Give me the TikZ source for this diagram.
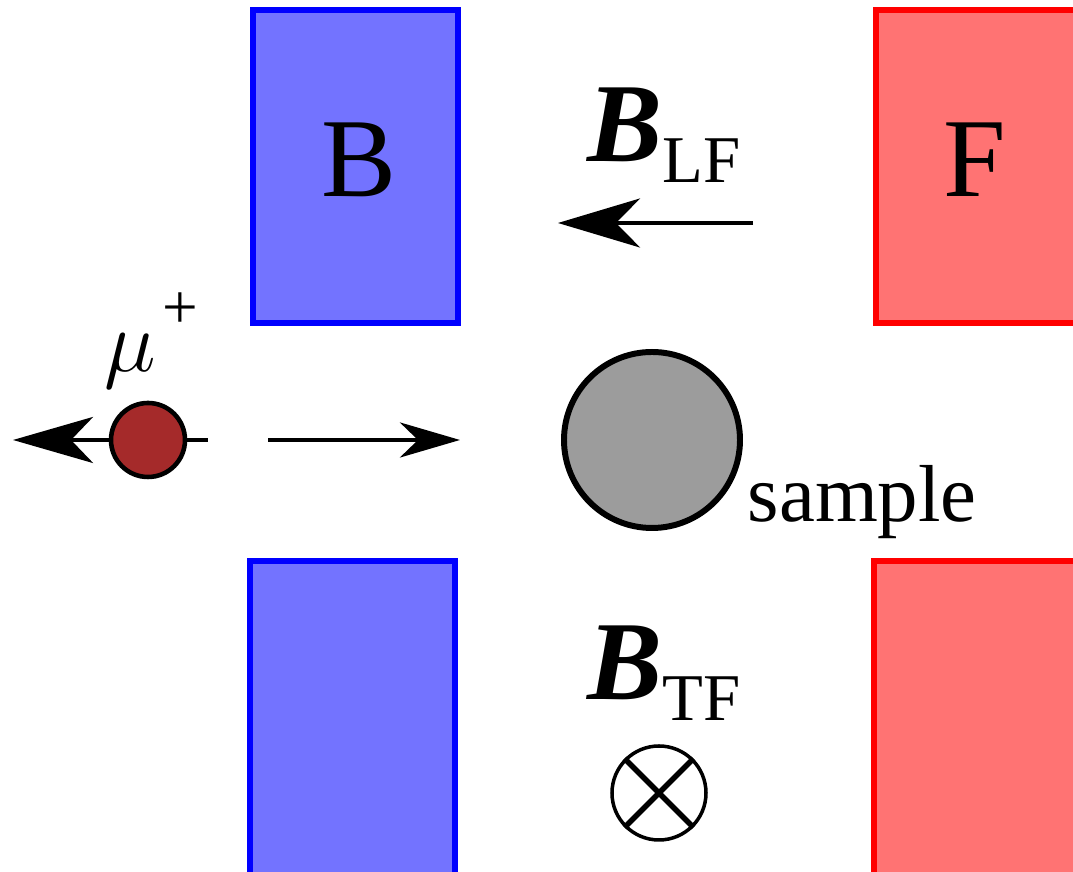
\documentclass[tikz,border=0pt]{standalone}
\usepackage{fontspec}
\setmainfont{Liberation Serif}
\usepackage{tikz}
\usetikzlibrary{arrows.meta}
\usepackage{xcolor}
\definecolor{muonvermell}{RGB}{165,42,42}
\newcommand{\camp}[1]{{\fontsize{32}{36}\selectfont\textbf{\textit{B}}}\raisebox{-2.1mm}{\fontsize{19}{22}\selectfont #1}}

\begin{document}
\begin{tikzpicture}[>=Stealth, scale=1]

\useasboundingbox (0,0) rectangle (10.73,8.72);
\clip (0,0) rectangle (10.73,8.72);

% Imants (pol B)
\filldraw[
    line width=1.6pt,
    draw=blue,
    fill=blue!55
] (2.53,8.62) rectangle (4.58,5.49);

\filldraw[
    line width=1.6pt,
    draw=blue,
    fill=blue!55
] (2.50,3.11) rectangle (4.55,-0.3);

% Imants (pol F)
\filldraw[
    line width=1.6pt,
    draw=red,
    fill=red!55
] (8.76,8.62) rectangle (11.2,5.49);

\filldraw[
    line width=1.6pt,
    draw=red,
    fill=red!55
] (8.74,3.11) rectangle (11.2,-0.3);

% Etiquetes dels pols
\node[anchor=base] (polB) at (3.59,6.75) {\fontsize{32}{36}\selectfont B};
\node[anchor=base] (polF) at (9.75,6.75) {\fontsize{32}{36}\selectfont F};

% Camp longitudinal
\node[anchor=base west, inner sep=0pt] (etLF) at (5.87,7.10) {\camp{LF}};
\coordinate (lfA) at (7.53,6.49);
\coordinate (lfB) at (5.58,6.49);
\draw[
    line width=1.3pt,
    -{Stealth[length=8.2mm, width=4.9mm, inset=2.4mm]}
] (lfA) -- (lfB);

% Muo
\coordinate (muE) at (0.13,4.32);
\coordinate (muD) at (2.08,4.32);
\draw[
    line width=1.3pt,
    {Stealth[length=8mm, width=4.6mm, inset=2.2mm]}-
] (muE) -- (muD);
\node[
    circle,
    draw=black,
    line width=1.3pt,
    fill=muonvermell,
    minimum size=0.74cm,
    inner sep=0pt
] (muo) at (1.48,4.32) {};
\node[anchor=base west, inner sep=0pt] (etMu) at (1.04,5.00)
    {\fontsize{28}{32}\selectfont$\mu$\hspace{0.6mm}\raisebox{4.3mm}{\fontsize{18}{20}\selectfont +}};

% Direccio del feix
\coordinate (fxA) at (2.68,4.32);
\coordinate (fxB) at (4.60,4.32);
\draw[
    line width=1.3pt,
    -{Stealth[length=6mm, width=3.5mm, inset=1.8mm]}
] (fxA) -- (fxB);

% Mostra
\node[
    circle,
    draw=black,
    line width=1.7pt,
    fill=black!39,
    minimum size=1.76cm,
    inner sep=0pt
] (mostra) at (6.52,4.32) {};
\node[anchor=base west, inner sep=0pt] (etMostra) at (7.47,3.50) {\fontsize{23}{27}\selectfont sample};

% Camp transversal
\node[anchor=base west, inner sep=0pt] (etTF) at (5.87,1.72) {\camp{TF}};
\node[
    circle,
    draw=black,
    line width=1pt,
    minimum size=0.94cm,
    inner sep=0pt
] (creu) at (6.59,0.79) {};
\draw[line width=1.6pt] (creu.north west) -- (creu.south east);
\draw[line width=1.6pt] (creu.north east) -- (creu.south west);

\end{tikzpicture}
\end{document}
